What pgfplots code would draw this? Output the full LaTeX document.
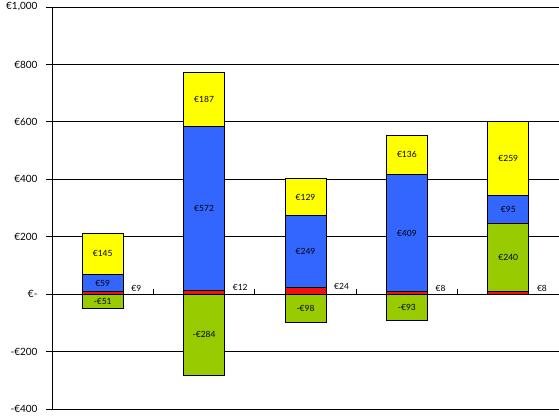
\documentclass[border=0pt]{standalone}
\usepackage{fontspec}
\setmainfont{Lato}
\usepackage{pgfplots}
\pgfplotsset{compat=1.18}
\definecolor{cred}{RGB}{240,16,16}
\definecolor{cgreen}{RGB}{153,204,0}
\definecolor{cblue}{RGB}{51,102,255}
\definecolor{cyellow}{RGB}{255,255,0}
\newcommand\eurolabel[1]{\pgfmathtruncatemacro\vv{#1}\ifnum\vv=0 \else €\vv\fi}
\pgfplotsset{
  base/.style={
    scale only axis, width=507pt, height=402pt,
    xmin=0.5, xmax=5.5, ymin=-400, ymax=1000,
    bar width=41pt,
  },
  seg/.style={fill=#1, draw=black, line width=0.8pt},
  midlabel/.style={
    visualization depends on={rawy \as \rawy},
    nodes near coords={\eurolabel{\rawy}},
    every node near coord/.append style={anchor=center, font=\fontsize{8.5}{10}\selectfont, black},
  },
}
\begin{document}
\begin{tikzpicture}
\useasboundingbox (-52pt,-7pt) rectangle (507pt,409pt);
\begin{axis}[base,
  ybar stacked,
  axis y line=left, axis x line=middle, axis line style={-, line width=0.8pt},
  ymajorgrids, grid style={black, line width=0.8pt},
  ytick={-400,-200,0,200,400,600,800,1000},
  yticklabels={-€400,-€200,€-,€200,€400,€600,€800,{€1,000}},
  xtick={1.5,2.5,3.5,4.5}, xticklabels={},
  tick align=outside, major tick length=6pt,
  tick style={black, line width=0.8pt},
  x tick style={yshift=5pt},
  y tick label style={font=\fontsize{10}{12}\selectfont, xshift=-5pt},
]
\addplot[seg=cred,
  visualization depends on={rawy \as \rawy},
  nodes near coords={\eurolabel{\rawy}},
  every node near coord/.append style={anchor=west, xshift=25pt, yshift=4.5pt, font=\fontsize{8.5}{10}\selectfont, black}]
  coordinates {(1,9) (2,12) (3,24) (4,8) (5,8)};
\addplot[seg=cgreen, midlabel] coordinates {(1,0) (2,0) (3,0) (4,0) (5,240)};
\addplot[seg=cblue, midlabel] coordinates {(1,59) (2,572) (3,249) (4,409) (5,95)};
\addplot[seg=cyellow, midlabel] coordinates {(1,145) (2,187) (3,129) (4,136) (5,259)};
\end{axis}
\begin{axis}[base, hide axis, ybar]
\addplot[seg=cgreen,
  visualization depends on={rawy \as \rawy},
  nodes near coords={\pgfmathtruncatemacro\vv{-\rawy}-€\vv},
  every node near coord/.append style={anchor=center, font=\fontsize{8.5}{10}\selectfont, black,
      shift={(axis direction cs:0,-\rawy/2)}}]
  coordinates {(1,-51) (2,-284) (3,-98) (4,-93)};
\end{axis}
\end{tikzpicture}
\end{document}
